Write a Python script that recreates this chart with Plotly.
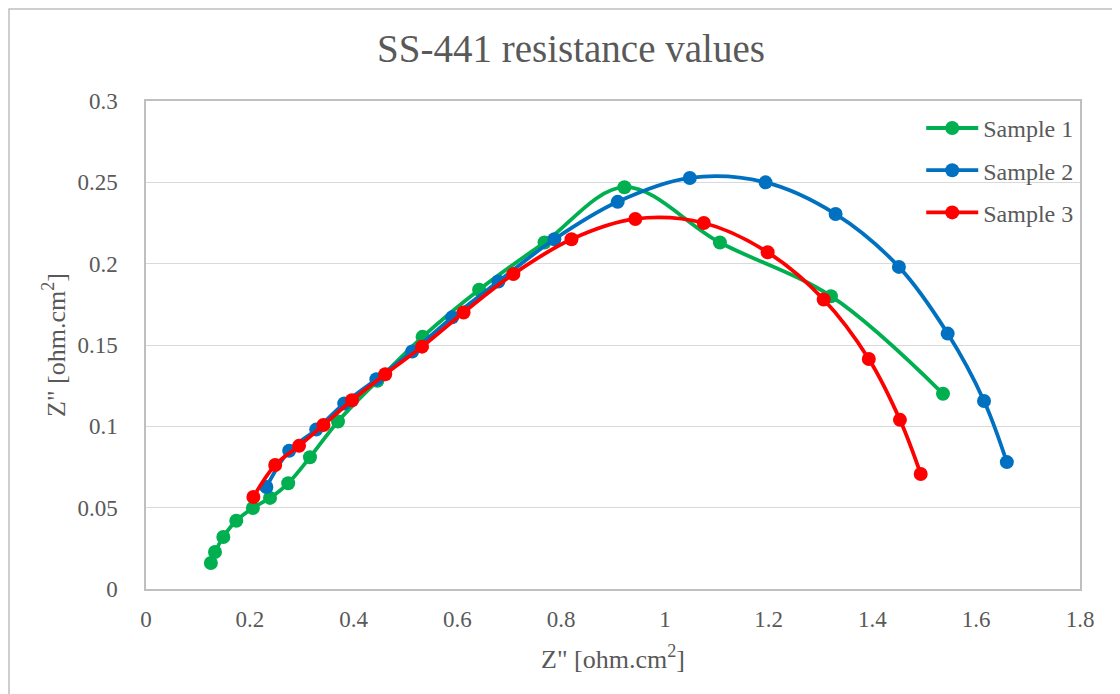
import plotly.graph_objects as go

# Sample 1 (green)
s1_x = [0.125, 0.133, 0.149, 0.174, 0.206, 0.239, 0.274, 0.316, 0.370, 0.446,
        0.533, 0.642, 0.768, 0.922, 1.106, 1.320, 1.536]
s1_y = [0.016, 0.0227, 0.032, 0.042, 0.0498, 0.056, 0.065, 0.081, 0.103, 0.128,
        0.155, 0.184, 0.213, 0.247, 0.213, 0.180, 0.120]

# Sample 2 (blue)
s2_x = [0.232, 0.276, 0.328, 0.382, 0.444, 0.513, 0.590, 0.679, 0.787, 0.909,
        1.048, 1.194, 1.329, 1.451, 1.545, 1.615, 1.659]
s2_y = [0.0627, 0.085, 0.098, 0.114, 0.129, 0.146, 0.167, 0.189, 0.215, 0.238,
        0.2527, 0.250, 0.2305, 0.198, 0.157, 0.1156, 0.078]

# Sample 3 (red)
s3_x = [0.207, 0.249, 0.295, 0.342, 0.397, 0.461, 0.532, 0.612, 0.708, 0.820,
        0.943, 1.075, 1.198, 1.306, 1.393, 1.453, 1.493]
s3_y = [0.0566, 0.0762, 0.088, 0.1008, 0.116, 0.132, 0.149, 0.170, 0.1936, 0.215,
        0.2275, 0.225, 0.207, 0.178, 0.1414, 0.104, 0.0707]

series = [
    ("Sample 1", s1_x, s1_y, "#00B050"),
    ("Sample 2", s2_x, s2_y, "#0070C0"),
    ("Sample 3", s3_x, s3_y, "#FF0000"),
]

FONT = "Liberation Serif"
GREY = "#595959"

fig = go.Figure()
for name, xs, ys, col in series:
    fig.add_trace(go.Scatter(
        x=xs, y=ys, name=name, legendgroup=name,
        mode="lines+markers",
        line=dict(color=col, width=3.8, shape="spline", smoothing=1.0),
        marker=dict(color=col, size=14),
    ))

# page body has an 8px margin, so the figure is sized to fit the window
W, H = 1112, 686
fig.update_layout(
    width=W, height=H,
    margin=dict(l=138, r=40, t=93, b=105),
    paper_bgcolor="white", plot_bgcolor="white",
    font=dict(family=FONT, color=GREY, size=23),
    title=dict(text="SS-441 resistance values", x=563 / W, xanchor="center",
               y=1 - 40 / H, yanchor="middle",
               font=dict(size=39, color=GREY, family=FONT)),
    legend=dict(x=0.830, y=0.99, xanchor="left", yanchor="top",
                bgcolor="rgba(0,0,0,0)", font=dict(size=24, color=GREY),
                traceorder="grouped", tracegroupgap=8, itemwidth=52),
    xaxis=dict(range=[0, 1.8], dtick=0.2, tickformat="~g",
               showgrid=False, zeroline=False,
               showline=True, linecolor="#BFBFBF", linewidth=1.5, mirror=True,
               tickfont=dict(size=23, color=GREY), ticks="",
               ticklabelstandoff=9,
               title=dict(text="Z\" [ohm.cm<sup>2</sup>]", standoff=18,
                          font=dict(size=26, color=GREY))),
    yaxis=dict(range=[0, 0.3], dtick=0.05, tickformat="~g",
               showgrid=True, gridcolor="#D9D9D9", gridwidth=1.2, zeroline=False,
               showline=True, linecolor="#BFBFBF", linewidth=1.5, mirror=True,
               tickfont=dict(size=23, color=GREY), ticks="",
               ticklabelstandoff=22,
               title=dict(text="Z\" [ohm.cm<sup>2</sup>]", standoff=4,
                          font=dict(size=26, color=GREY))),
)

# outer chart border
fig.add_shape(type="rect", xref="paper", yref="paper",
              x0=-137 / 934, x1=1.1, y0=-0.3, y1=1 + 92 / 488,
              line=dict(color="#BFBFBF", width=1.5), layer="below")

fig.write_html("out.html")
